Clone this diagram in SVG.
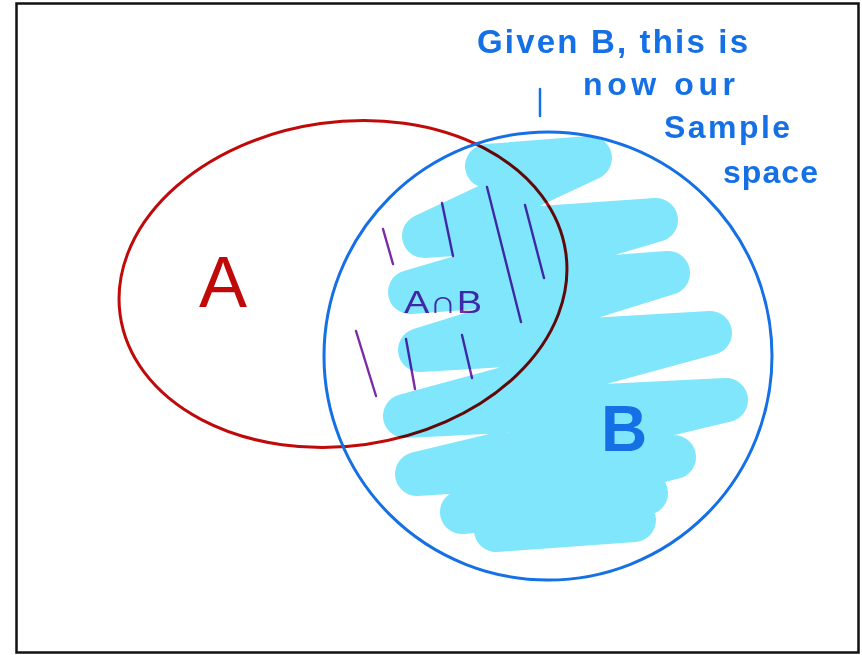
<svg xmlns="http://www.w3.org/2000/svg" width="862" height="655" viewBox="0 0 862 655">
<style>
.blue{fill:#1570E6;font-family:"Liberation Sans",Arial,sans-serif;font-weight:bold}
.hatch{stroke:#7A2CA8;stroke-width:2.4;stroke-linecap:round;fill:none}
.fill{fill:none;stroke:#80E6FC;stroke-width:44;stroke-linecap:round;stroke-linejoin:round;mix-blend-mode:multiply}
</style>
<rect x="0" y="0" width="862" height="655" fill="#ffffff"/>
<rect x="16.5" y="3.5" width="842" height="649" fill="none" stroke="#111" stroke-width="2.5"/>
<g id="nodeA">
<ellipse cx="343" cy="284" rx="225" ry="162" transform="rotate(-8 343 284)" fill="none" stroke="#C00A0A" stroke-width="3"/>
<text x="223" y="307" text-anchor="middle" font-family="Liberation Sans, Arial, sans-serif" font-size="72" fill="#C00A0A">A</text>
</g>
<g id="intersection">
<line class="hatch" x1="383" y1="229" x2="393" y2="264"/>
<line class="hatch" x1="442" y1="203" x2="453" y2="256"/>
<line class="hatch" x1="487" y1="187" x2="521" y2="322"/>
<line class="hatch" x1="525" y1="205" x2="544" y2="278"/>
<line class="hatch" x1="356" y1="331" x2="376" y2="396"/>
<line class="hatch" x1="406" y1="339" x2="415" y2="389"/>
<line class="hatch" x1="462" y1="335" x2="472" y2="378"/>
<text x="404" y="313" font-family="Liberation Sans, Arial, sans-serif" font-size="32" fill="#7A2CA8" textLength="78" lengthAdjust="spacingAndGlyphs">A∩B</text>
</g>
<g id="nodeB">
<polyline class="fill" points="487,166 590,158 424,236 656,220 410,292 668,273 420,350 710,333 405,416 726,400 417,474 674,457 462,512 646,493 496,530 634,520"/>
<circle cx="548" cy="356" r="224" fill="none" stroke="#1570E6" stroke-width="3"/>
<text class="blue" x="601" y="451" font-size="64">B</text>
</g>
<g id="annotation">
<text class="blue" x="477" y="53" font-size="33" textLength="271" lengthAdjust="spacing">Given B, this is</text>
<text class="blue" x="583" y="95" font-size="32" textLength="152" lengthAdjust="spacing">now our</text>
<text class="blue" x="664" y="138" font-size="32" textLength="126" lengthAdjust="spacing">Sample</text>
<text class="blue" x="723" y="183" font-size="32" textLength="95" lengthAdjust="spacing">space</text>
</g>
<g id="connectors">
<line x1="540" y1="89" x2="540" y2="116" stroke="#1570E6" stroke-width="2.5" stroke-linecap="round"/>
</g>
</svg>
